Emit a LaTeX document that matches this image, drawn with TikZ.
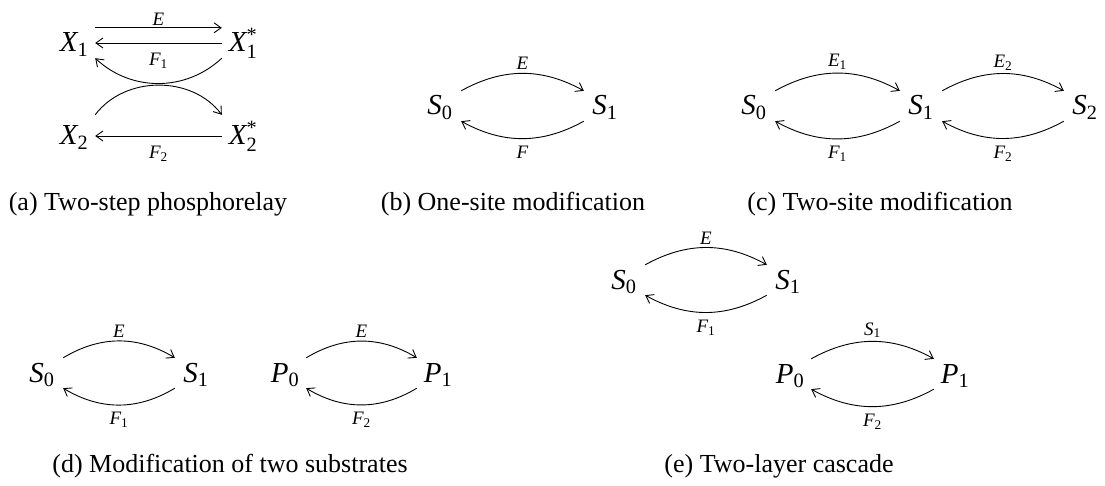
\documentclass[tikz,border=0pt]{standalone}
\usepackage{fontspec}
\usepackage{amsmath}
\setmainfont{Liberation Serif}
\usetikzlibrary{arrows.meta}
\newcommand\vv[2]{$\textit{#1}_{\text{#2}}$}
\newcommand\vs[2]{$\textit{#1}_{\text{#2}}^{\text{*}}$}
\begin{document}
\begin{tikzpicture}[x=1pt,y=1pt,
  sp/.style={inner sep=0pt, minimum width=42pt, text height=24pt, text depth=6pt, anchor=base, font=\fontsize{29}{29}\selectfont},
  lbl/.style={font=\fontsize{19}{19}\selectfont, inner sep=1pt},
  captxt/.style={anchor=base, inner sep=0pt, font=\fontsize{26}{30}\selectfont},
  arr/.style={line width=0.9pt, -{Straight Barb[length=7pt,width=10pt,line width=0.9pt]}}]
\useasboundingbox (0,0) rectangle (1105,-486);
% (a)
\node[sp] (X1) at (74,-52) {\vv X1};
\node[sp] (X1s) at (243,-52) {\vs X1};
\node[sp] (X2) at (74,-145) {\vv X2};
\node[sp] (X2s) at (243,-145) {\vs X2};
\draw[arr] (X1.north east) -- node[lbl, above=1pt] {\textit{E}} (X1s.north west);
\draw[arr] (X1s.west) -- node[lbl, below=9pt] {\vv F1} (X1.east);
\draw[arr] (X1s.south west) to[bend left=43] (X1.south east);
\draw[arr] ([yshift=6pt]X2.north east) to[bend left=53] ([yshift=6pt]X2s.north west);
\draw[arr] (X2s.west) -- node[lbl, below=9pt] {\vv F2} (X2.east);
\node[captxt] (capa) at (148,-211) {(a) Two-step phosphorelay};
% (b)
\node[sp] (bS0) at (440,-115) {\vv S0};
\node[sp] (bS1) at (605,-115) {\vv S1};
\draw[arr] (bS0.north east) to[bend left=29] node[lbl, above=2pt] {\textit{E}} (bS1.north west);
\draw[arr] (bS1.south west) to[bend left=29] node[lbl, below=6pt] {\textit{F}} (bS0.south east);
\node[captxt] (capb) at (513,-211) {(b) One-site modification};
% (c)
\node[sp] (cS0) at (754,-115) {\vv S0};
\node[sp] (cS1) at (921,-115) {\vv S1};
\node[sp] (cS2) at (1085,-115) {\vv S2};
\draw[arr] (cS0.north east) to[bend left=29] node[lbl, above=2pt] {\vv E1} (cS1.north west);
\draw[arr] (cS1.south west) to[bend left=29] node[lbl, below=6pt] {\vv F1} (cS0.south east);
\draw[arr] (cS1.north east) to[bend left=29] node[lbl, above=2pt] {\vv E2} (cS2.north west);
\draw[arr] (cS2.south west) to[bend left=29] node[lbl, below=6pt] {\vv F2} (cS1.south east);
\node[captxt] (capc) at (880,-211) {(c) Two-site modification};
% (d)
\node[sp] (dS0) at (42,-382) {\vv S0};
\node[sp] (dS1) at (196,-382) {\vv S1};
\node[sp] (dP0) at (285,-382) {\vv P0};
\node[sp] (dP1) at (438,-382) {\vv P1};
\draw[arr] (dS0.north east) to[bend left=31] node[lbl, above=2pt] {\textit{E}} (dS1.north west);
\draw[arr] (dS1.south west) to[bend left=31] node[lbl, below=6pt] {\vv F1} (dS0.south east);
\draw[arr] (dP0.north east) to[bend left=31] node[lbl, above=2pt] {\textit{E}} (dP1.north west);
\draw[arr] (dP1.south west) to[bend left=31] node[lbl, below=6pt] {\vv F2} (dP0.south east);
\node[captxt] (capd) at (230,-472) {(d) Modification of two substrates};
% (e)
\node[sp] (eS0) at (624,-289) {\vv S0};
\node[sp] (eS1) at (788,-289) {\vv S1};
\node[sp] (eP0) at (790,-383) {\vv P0};
\node[sp] (eP1) at (955,-383) {\vv P1};
\draw[arr] (eS0.north east) to[bend left=29] node[lbl, above=2pt] {\textit{E}} (eS1.north west);
\draw[arr] (eS1.south west) to[bend left=29] node[lbl, below=6pt] {\vv F1} (eS0.south east);
\draw[arr] (eP0.north east) to[bend left=29] node[lbl, above=2pt] {\vv S1} (eP1.north west);
\draw[arr] (eP1.south west) to[bend left=29] node[lbl, below=6pt] {\vv F2} (eP0.south east);
\node[captxt] (cape) at (779,-472) {(e) Two-layer cascade};
\end{tikzpicture}
\end{document}
